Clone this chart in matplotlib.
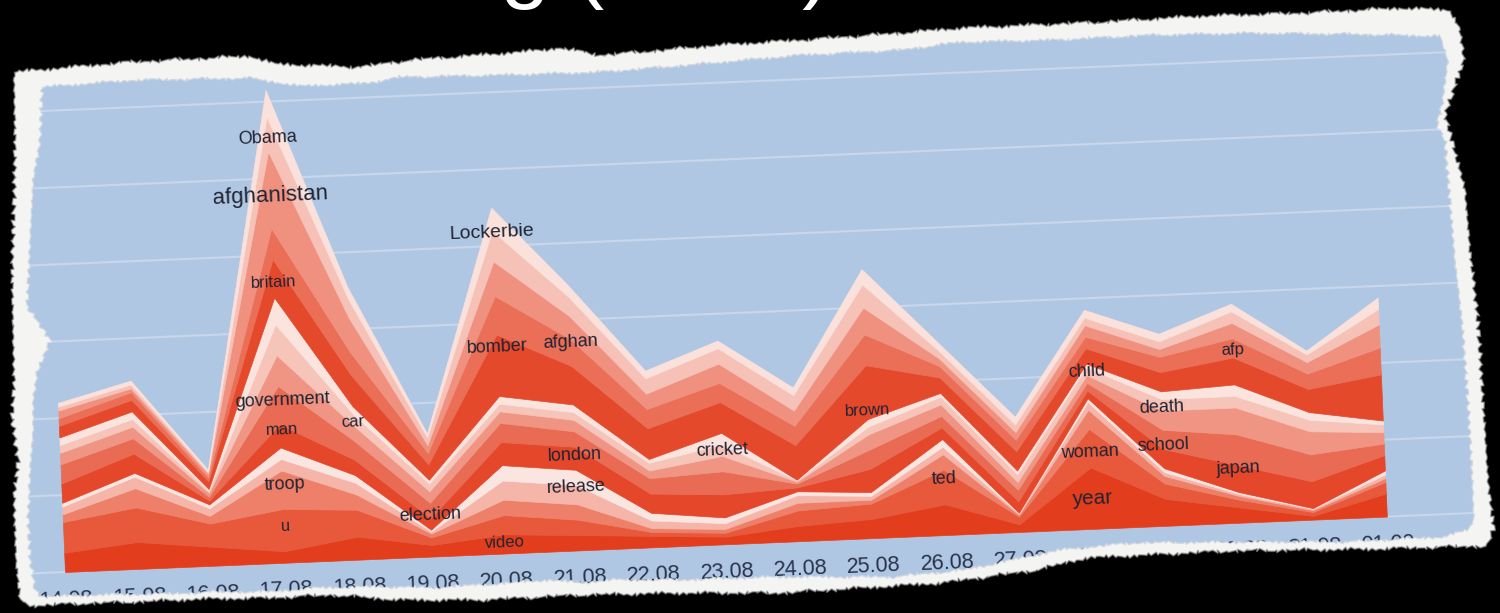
import numpy as np
import matplotlib
matplotlib.use("Agg")
import matplotlib.pyplot as plt
from matplotlib.patches import Polygon, PathPatch
from matplotlib.path import Path
from matplotlib.transforms import Affine2D

# --- data: word mentions per day, stacked bottom -> top ---
dates = ["14.08", "15.08", "16.08", "17.08", "18.08", "19.08", "20.08", "21.08", "22.08", "23.08",
         "24.08", "25.08", "26.08", "27.08", "28.08", "29.08", "30.08", "31.08", "01.09"]

layer_01 = [5, 7, 5, 3, 6, 3, 5, 4, 3, 2, 4, 5, 8, 2, 16, 7, 4, 1, 6]
layer_02 = [8, 9, 6, 11, 7, 2, 5, 4, 1, 1, 4, 4, 9, 2, 10, 4, 2, 1, 3]
layer_03 = [2, 5, 2, 10, 4, 1, 4, 4, 1, 1, 2, 1, 4, 0.5, 5, 2, 1, 0.5, 1]
layer_04 = [2, 3, 2, 3, 3, 0.5, 5, 5, 2, 1.5, 2, 1, 2, 0.3, 2, 1, 0.5, 0.3, 1]
layer_05 = [1, 1, 1, 3, 2, 0.5, 4, 4, 2, 1.5, 1, 1, 2, 0.2, 1, 1, 0.5, 0.2, 1]
layer_06 = [5, 5, 1, 6, 4, 3, 6, 6, 5, 6, 1, 6, 3, 3, 2, 5, 7, 7, 4]
layer_07 = [5, 4, 1, 10, 5, 4, 5, 4, 4, 6, 1, 5, 3, 3, 2, 5, 8, 7, 3]
layer_08 = [3, 3, 1, 8, 4, 3, 3, 3, 2, 4, 0.5, 4, 3, 2, 2, 5, 7, 6, 3]
layer_09 = [2, 2, 0.5, 8, 3, 2, 2, 2, 2, 3, 0.3, 2, 2, 2, 2, 3, 3, 3, 2]
layer_10 = [2, 2, 0.5, 7, 2, 1, 2, 2, 1, 3, 0.2, 2, 1, 1, 1, 2, 3, 2, 1]
layer_11 = [3, 3, 2, 10, 8, 4, 16, 10, 8, 8, 9, 14, 4, 5, 4, 5, 7, 6, 12]
layer_12 = [2, 2, 1, 8, 6, 3, 10, 7, 5, 5, 5, 8, 3, 3, 3, 4, 5, 4, 7]
layer_13 = [2, 1, 1, 20, 9, 2, 9, 6, 4, 5, 4, 7, 2, 2, 3, 2, 4, 3, 6]
layer_14 = [1, 1, 0.5, 9, 5, 2, 8, 5, 4, 4, 4, 6, 2, 2, 2, 2, 3, 2, 4]
layer_15 = [1, 1, 0.5, 7, 3, 1, 6, 3, 2, 2, 2, 4, 2, 2, 2, 2, 2, 1, 3]

layers = [layer_01, layer_02, layer_03, layer_04, layer_05, layer_06, layer_07, layer_08,
          layer_09, layer_10, layer_11, layer_12, layer_13, layer_14, layer_15]
colors = ["#e23d1c", "#e8583b", "#ee7f69", "#f5b5a8", "#fbe5e0",
          "#e4472a", "#ea6b53", "#f09583", "#f6c4b9", "#fbe3de",
          "#e5492c", "#eb6e56", "#f0917f", "#f6c1b6", "#fbe1db"]

# word labels: (word, day index, height, font size)
words = ["Obama", "afghanistan", "britain", "government", "man", "car", "troop", "u",
         "election", "video", "Lockerbie", "bomber", "afghan", "london", "release",
         "cricket", "brown", "ted", "child", "woman", "year", "death", "school", "afp", "japan"]
word_day = [3, 3, 3, 3.05, 3.03, 4, 3.04, 3.02, 5, 6, 6, 6, 7, 7, 7,
            9, 11, 12, 14, 14, 14, 15, 15, 16, 16]
word_y = [110.4, 95.3, 73, 42.3, 34.5, 35.8, 20.2, 9.6, 10.8, 2.7, 83.6, 53.7, 54.2, 24.8, 16.5,
          24.5, 33.3, 14.5, 40.8, 20, 8, 30.9, 20.8, 44.9, 14.2]
word_size = [13, 16, 12, 13, 12, 12, 13, 12, 13, 12, 14, 13, 13, 13, 13,
             13, 12, 13, 13, 13, 15, 13, 13, 12, 13]

# --- torn paper outline (pixel coords, y down) ---
outer_pts = [(14, 72), (60, 68), (130, 62), (250, 56), (275, 64), (360, 67), (410, 60), (520, 52),
             (560, 48), (600, 55), (640, 52), (720, 45), (800, 40), (900, 33), (960, 28), (1100, 22),
             (1200, 16), (1300, 13), (1400, 8), (1450, 10),
             (1460, 30), (1464, 60), (1445, 115), (1452, 140), (1465, 190), (1470, 250), (1478, 320),
             (1483, 400), (1488, 480), (1494, 530), (1487, 546),
             (1444, 547), (1372, 549), (1228, 551), (1085, 558), (1037, 570), (941, 583), (780, 593),
             (680, 593), (580, 595), (480, 600), (400, 600), (333, 595), (267, 598), (200, 599),
             (133, 602), (67, 604), (33, 606), (20, 600),
             (16, 560), (14, 500), (18, 460), (12, 420), (14, 380), (13, 330), (12, 270), (14, 200), (15, 140)]
inner_pts = [(42, 87), (133, 80), (250, 78), (300, 86), (367, 83), (400, 77), (500, 75), (600, 72),
             (700, 64), (800, 55), (900, 50), (960, 42), (1050, 40), (1150, 35), (1250, 33), (1350, 34),
             (1440, 36),
             (1448, 60), (1443, 100), (1437, 125), (1445, 140), (1450, 200), (1455, 260), (1462, 320),
             (1468, 400), (1472, 470), (1474, 520), (1468, 530),
             (1444, 537), (1348, 542), (1276, 542), (1133, 543), (1061, 550), (1013, 560), (965, 570),
             (893, 577), (780, 577), (680, 580), (613, 580), (580, 583), (547, 580), (513, 583),
             (430, 588), (400, 587), (367, 587), (317, 588), (267, 592), (217, 592), (167, 594),
             (100, 595), (43, 597), (35, 590),
             (30, 560), (28, 520), (30, 470), (33, 430), (33, 400), (37, 373), (50, 340), (27, 307),
             (30, 240), (33, 180), (40, 140)]


def torn(pts, amp, step=3.0):
    pts = np.asarray(pts + [pts[0]], float)
    seg = []
    for p, q in zip(pts[:-1], pts[1:]):
        n = max(int(np.hypot(*(q - p)) / step), 1)
        t = np.arange(n) / n
        seg.append(p + np.outer(t, q - p))
    xy = np.vstack(seg)
    k = np.arange(len(xy))
    xy[:, 0] += amp * (np.sin(k * 1.9) + 0.5 * np.sin(k * 4.3 + 1.1))
    xy[:, 1] += amp * (np.sin(k * 2.7 + 0.4) + 0.5 * np.sin(k * 5.9))
    return xy


def ring(a, b):
    def area(xy):
        return 0.5 * np.sum(xy[:, 0] * np.roll(xy[:, 1], -1) - np.roll(xy[:, 0], -1) * xy[:, 1])
    if np.sign(area(a)) == np.sign(area(b)):
        b = b[::-1]
    verts = np.vstack([a, a[:1], b, b[:1]])
    codes = ([Path.MOVETO] + [Path.LINETO] * (len(a) - 1) + [Path.CLOSEPOLY] +
             [Path.MOVETO] + [Path.LINETO] * (len(b) - 1) + [Path.CLOSEPOLY])
    return Path(verts, codes)


W, H = 1500, 613
X0, Y0, ANGLE = 65, 572, 2.4
outer = torn(outer_pts, 1.6)
inner = torn(inner_pts, 1.3)

fig = plt.figure(figsize=(W / 100, H / 100), dpi=100, facecolor="black")

bg = fig.add_axes([0, 0, 1, 1], label="paper")
bg.set_xlim(0, W); bg.set_ylim(H, 0); bg.axis("off")
bg.add_patch(Polygon(inner, closed=True, fc="#b0c7e3", ec="none"))

ax = fig.add_axes([X0 / W, (H - Y0) / H, 1323 / W, 500 / H], label="chart")
ax.set_xlim(0, 18); ax.set_ylim(0, 130); ax.axis("off")
tr = ax.transData + Affine2D().rotate_deg_around(X0, H - Y0, ANGLE)

for v in range(0, 140, 20):
    ax.plot([-1.5, 19.5], [v, v], color="#c8d7eb", lw=1.5, transform=tr, clip_on=False, zorder=1)

polys = ax.stackplot(range(len(dates)), *layers, colors=colors, edgecolor="face", linewidth=0.5, zorder=2)
for p in polys:
    p.set_transform(tr)
    p.set_clip_on(False)

for w, d, y, s in zip(words, word_day, word_y, word_size):
    ax.text(d, y, w, transform=tr, rotation=ANGLE, rotation_mode="anchor", ha="center", va="center",
            fontsize=s, color="#202433", family="Liberation Sans", zorder=3)

for i, lab in enumerate(dates):
    ax.text(i, -7.3, lab, transform=tr, rotation=ANGLE, rotation_mode="anchor", ha="center", va="center",
            fontsize=15.5, color="#28324a", family="Liberation Sans", zorder=3)

# torn white border and black surround on top
top = fig.add_axes([0, 0, 1, 1], label="frame")
top.set_xlim(0, W); top.set_ylim(H, 0); top.axis("off")
rect = np.array([(-20, -20), (W + 20, -20), (W + 20, H + 20), (-20, H + 20)], float)
top.add_patch(PathPatch(ring(rect, outer), fc="black", ec="none"))
top.add_patch(PathPatch(ring(outer, inner), fc="#f4f4f2", ec="none"))
top.plot(np.r_[outer[:, 0], outer[0, 0]], np.r_[outer[:, 1], outer[0, 1]], color="#8a8a8a", lw=1.2, alpha=0.6)
top.plot(np.r_[inner[:, 0], inner[0, 0]], np.r_[inner[:, 1], inner[0, 1]], color="#dfe4ea", lw=1.0, alpha=0.8)

# slide title, only its lower edge shows above the paper
fig.text(832 / W, 1 + 9 / H, "Streaming (2009)", ha="right", va="baseline", color="white",
         fontsize=64, family="Liberation Sans")

fig.savefig("out.png", dpi=100, facecolor="black")
